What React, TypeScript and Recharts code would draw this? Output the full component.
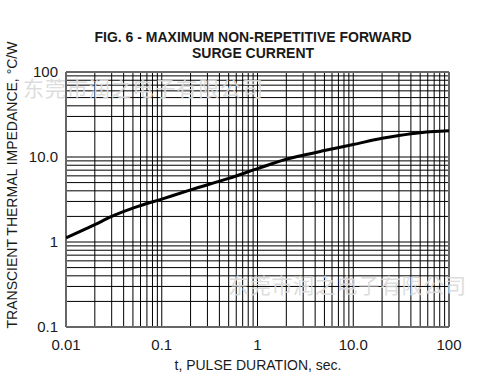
import React from 'react';
import { LineChart, Line, XAxis, YAxis, ReferenceLine } from 'recharts';

// pulse duration (sec) and transient thermal impedance (°C/W)
const durations = [0.01, 0.02, 0.03, 0.05, 0.1, 0.2, 0.5, 1, 2, 3, 5, 10, 20, 30, 50, 70, 100];
const impedance = [1.12, 1.6, 2.0, 2.5, 3.2, 4.1, 5.6, 7.3, 9.4, 10.5, 11.9, 14.0, 16.6, 17.9, 19.3, 19.9, 20.3];

const xTicks = [0.01, 0.1, 1, 10, 100];
const xTickLabels = ['0.01', '0.1', '1', '10.0', '100'];
const yTicks = [0.1, 1, 10, 100];
const yTickLabels = ['0.1', '1', '10.0', '100'];

// log grid: 1..9 in every decade
const gridSteps = [1, 2, 3, 4, 5, 6, 7, 8, 9];
const xDecades = [0.01, 0.1, 1, 10];
const yDecades = [0.1, 1, 10];

const title = ['FIG. 6 - MAXIMUM NON-REPETITIVE FORWARD', 'SURGE CURRENT'];
const xTitle = 't, PULSE DURATION, sec.';
const yTitle = 'TRANSCIENT THERMAL IMPEDANCE, °C/W';
const watermark = '东莞市润之电子有限公司';

const data = durations.map((t, i) => ({ t, z: impedance[i] }));
const xGrid = [...xDecades.flatMap((d) => gridSteps.map((s) => +(s * d).toPrecision(3))), 100];
const yGrid = [...yDecades.flatMap((d) => gridSteps.map((s) => +(s * d).toPrecision(3))), 100];

const font = 'Liberation Sans, Arial, sans-serif';

const App = () => {
  const fmt = (ticks: number[], labels: string[]) => (v: number) => {
    const i = ticks.findIndex((t) => Math.abs(t - v) < t * 1e-6);
    return i >= 0 ? labels[i] : '';
  };

  return (
    <div style={{ position: 'absolute', left: 0, top: 0, width: 488, height: 387, background: '#fff', fontFamily: font }}>
      <LineChart width={488} height={387} data={data} margin={{ top: 72, right: 39, bottom: 20, left: 8 }}>
        <XAxis
          dataKey="t"
          type="number"
          scale="log"
          domain={[0.01, 100]}
          ticks={xTicks}
          tickFormatter={fmt(xTicks, xTickLabels)}
          allowDataOverflow
          height={40}
          axisLine={false}
          tickLine={false}
          tick={{ fill: '#1a1a1a', fontSize: 15, fontFamily: font }}
          tickMargin={6}
        />
        <YAxis
          dataKey="z"
          type="number"
          scale="log"
          domain={[0.1, 100]}
          ticks={yTicks}
          tickFormatter={fmt(yTicks, yTickLabels)}
          allowDataOverflow
          width={58}
          axisLine={false}
          tickLine={false}
          tick={{ fill: '#1a1a1a', fontSize: 15, fontFamily: font }}
          tickMargin={2}
        />
        {xGrid.map((v) => (
          <ReferenceLine key={'x' + v} x={v} stroke="#000" strokeWidth={1} ifOverflow="extendDomain" />
        ))}
        {yGrid.map((v) => (
          <ReferenceLine key={'y' + v} y={v} stroke="#000" strokeWidth={1} ifOverflow="extendDomain" />
        ))}
        <ReferenceLine x={0.01} stroke="#666" strokeWidth={2} />
        <ReferenceLine x={100} stroke="#666" strokeWidth={2} />
        <ReferenceLine y={0.1} stroke="#666" strokeWidth={2} />
        <ReferenceLine y={100} stroke="#666" strokeWidth={2} />
        <Line
          type="monotone"
          dataKey="z"
          stroke="#000"
          strokeWidth={3}
          dot={false}
          isAnimationActive={false}
        />
      </LineChart>
      <svg width={488} height={387} style={{ position: 'absolute', left: 0, top: 0, pointerEvents: 'none' }}>
        <g fontFamily={font} fontWeight="bold" fontSize={14} fill="#1a1a1a" textAnchor="middle">
          <text x={253} y={42}>{title[0]}</text>
          <text x={253} y={58}>{title[1]}</text>
        </g>
        <text x={258} y={370} fontFamily={font} fontSize={14} fill="#1a1a1a" textAnchor="middle">{xTitle}</text>
        <text
          transform="translate(17,185) rotate(-90)"
          fontFamily={font}
          fontSize={14}
          fill="#1a1a1a"
          textAnchor="middle"
        >
          {yTitle}
        </text>
        <g fontFamily="Noto Sans CJK SC" fontSize={21} fill="#dadada" opacity={0.9}>
          <text x={23} y={96} textLength={240}>{watermark}</text>
          <text x={228} y={293} textLength={238}>{watermark}</text>
        </g>
      </svg>
    </div>
  );
};

export default App;
